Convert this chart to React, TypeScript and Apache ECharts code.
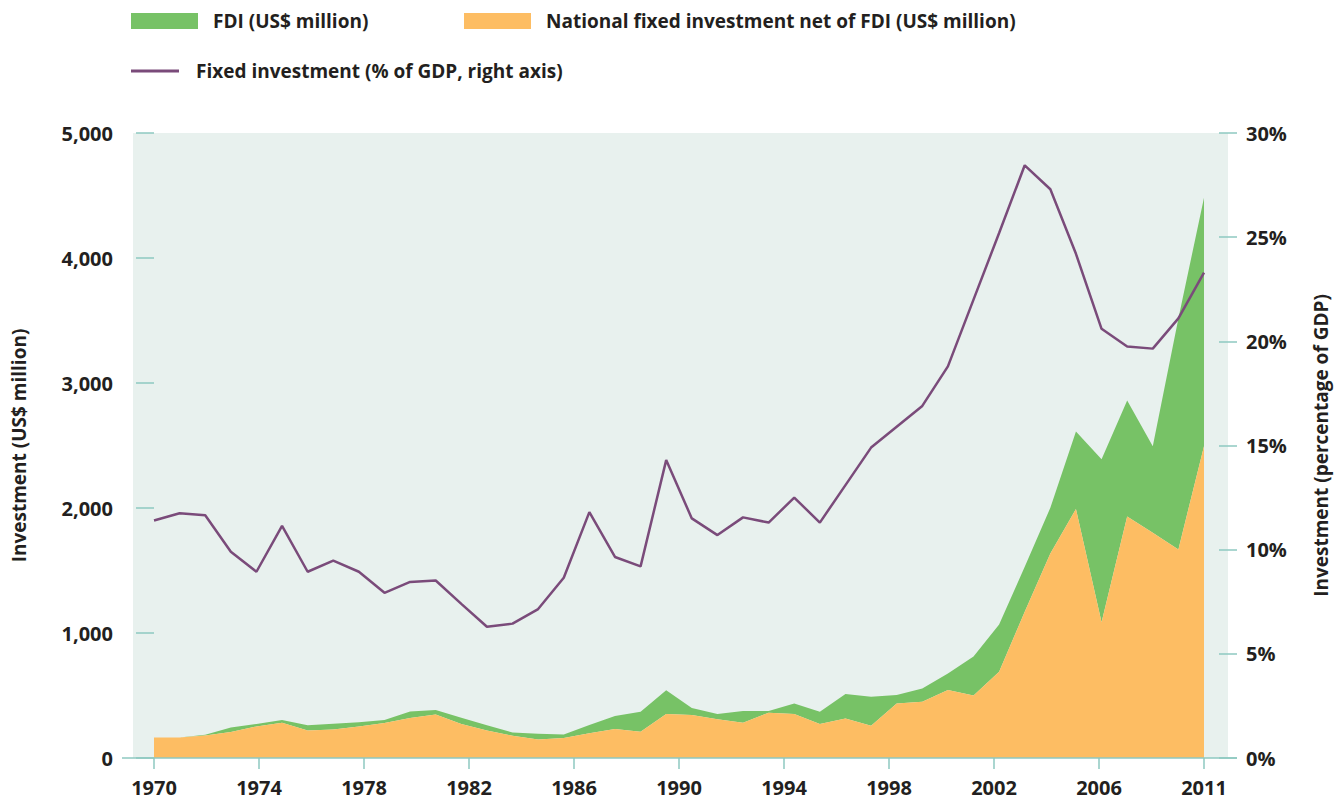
import React, { useEffect, useRef } from "react";
import * as echarts from "echarts";

// Years (one data point per year)
const years = [
  "1970", "1971", "1972", "1973", "1974", "1975", "1976", "1977", "1978", "1979",
  "1980", "1981", "1982", "1983", "1984", "1985", "1986", "1987", "1988", "1989",
  "1990", "1991", "1992", "1993", "1994", "1995", "1996", "1997", "1998", "1999",
  "2000", "2001", "2002", "2003", "2004", "2005", "2006", "2007", "2008", "2009",
  "2010", "2011",
];

// National fixed investment net of FDI (US$ million)
const national = [
  165, 165, 180, 208, 253, 283, 220, 228, 253, 280,
  320, 349, 272, 220, 178, 149, 160, 198, 233, 210,
  352, 344, 311, 283, 363, 352, 272, 317, 259, 437,
  451, 545, 500, 690, 1170, 1637, 1993, 1086, 1932, 1802,
  1669, 2495,
];

// FDI (US$ million)
const fdi = [
  0, 0, 6, 36, 20, 21, 42, 46, 34, 24,
  52, 35, 50, 42, 26, 46, 29, 66, 103, 161,
  190, 56, 41, 93, 13, 85, 99, 195, 232, 67,
  106, 132, 312, 378, 360, 365, 620, 1304, 929, 693,
  1847, 1987,
];

// Fixed investment (% of GDP, right axis)
const fixedPct = [
  11.4, 11.75, 11.65, 9.9, 8.94, 11.14, 8.94, 9.47, 8.94, 7.93,
  8.45, 8.52, 7.4, 6.3, 6.45, 7.15, 8.65, 11.8, 9.65, 9.2,
  14.3, 11.5, 10.7, 11.55, 11.3, 12.5, 11.3, 13.1, 14.9, 15.9,
  16.9, 18.8, 22.0, 25.2, 28.45, 27.3, 24.2, 20.6, 19.75, 19.65,
  21.1, 23.3,
];

// X-axis tick labels (evenly spaced as in the original)
const tickLabels = ["1970", "1974", "1978", "1982", "1986", "1990", "1994", "1998", "2002", "2006", "2011"];

const FDI_NAME = "FDI (US$ million)";
const NAT_NAME = "National fixed investment net of FDI (US$ million)";
const LINE_NAME = "Fixed investment (% of GDP, right axis)";

const GREEN = "#77c266";
const ORANGE = "#fdbd63";
const PURPLE = "#7a4b7a";
const TEAL = "#8ec8c1";
const BG = "#e8f1ee";
const TEXT = "#231f20";
const FONT = "'Open Sans', 'Noto Sans', sans-serif";

export default function App() {
  const ref = useRef<HTMLDivElement>(null);

  useEffect(() => {
    document.body.style.margin = "0";
    if (!ref.current) return;
    const chart = echarts.init(ref.current, undefined, { renderer: "svg" });

    const legendText = (pad: number) => ({
      color: TEXT,
      fontFamily: FONT,
      fontWeight: "bold" as const,
      fontSize: 19,
      lineHeight: 20,
      padding: [0, 0, 0, pad],
    });

    chart.setOption({
      animation: false,
      backgroundColor: "#ffffff",
      textStyle: { fontFamily: FONT },
      graphic: [
        {
          type: "rect",
          silent: true,
          z: -10,
          shape: { x: 133, y: 133, width: 1095, height: 625 },
          style: { fill: BG },
        },
        {
          type: "line",
          silent: true,
          z: 100,
          shape: { x1: 122, y1: 758, x2: 1237, y2: 758 },
          style: { stroke: TEAL, lineWidth: 1.5 },
        },
      ],
      legend: [
        {
          data: [{ name: FDI_NAME, icon: "rect" }],
          left: 131,
          top: 11,
          padding: 0,
          itemWidth: 67,
          itemHeight: 16,
          textStyle: legendText(10),
        },
        {
          data: [{ name: NAT_NAME, icon: "rect" }],
          left: 464,
          top: 11,
          padding: 0,
          itemWidth: 67,
          itemHeight: 16,
          textStyle: legendText(10),
        },
        {
          data: [{ name: LINE_NAME, icon: "rect" }],
          left: 131,
          top: 61,
          padding: 0,
          itemWidth: 48,
          itemHeight: 3,
          textStyle: legendText(12),
        },
      ],
      grid: { left: 154, right: 138, top: 133, bottom: 43, containLabel: false },
      xAxis: [
        {
          type: "category",
          data: years,
          boundaryGap: false,
          show: false,
        },
        {
          type: "value",
          min: 0,
          max: 10,
          interval: 1,
          position: "bottom",
          axisLine: { show: false },
          axisTick: { show: true, length: 11, lineStyle: { color: TEAL, width: 1.5 } },
          splitLine: { show: false },
          axisLabel: {
            margin: 19,
            color: TEXT,
            fontFamily: FONT,
            fontWeight: "bold",
            fontSize: 20,
            formatter: (v: number) => tickLabels[Math.round(v)] ?? "",
          },
        },
      ],
      yAxis: [
        {
          type: "value",
          min: 0,
          max: 5000,
          interval: 1000,
          position: "left",
          offset: 14,
          axisLine: { show: false },
          axisTick: { show: true, length: 18, lineStyle: { color: TEAL, width: 1.5 } },
          splitLine: { show: false },
          axisLabel: {
            margin: 27,
            color: TEXT,
            fontFamily: FONT,
            fontWeight: "bold",
            fontSize: 20,
            formatter: (v: number) => v.toLocaleString("en-US"),
          },
          name: "Investment (US$ million)",
          nameLocation: "middle",
          nameRotate: 90,
          nameGap: 112,
          nameTextStyle: { color: TEXT, fontFamily: FONT, fontWeight: "bold", fontSize: 19 },
        },
        {
          type: "value",
          min: 0,
          max: 30,
          interval: 5,
          position: "right",
          offset: 15,
          axisLine: { show: false },
          axisTick: { show: true, length: 18, lineStyle: { color: TEAL, width: 1.5 } },
          splitLine: { show: false },
          axisLabel: {
            margin: 27,
            color: TEXT,
            fontFamily: FONT,
            fontWeight: "bold",
            fontSize: 20,
            formatter: "{value}%",
          },
          name: "Investment (percentage of GDP)",
          nameLocation: "middle",
          nameRotate: 90,
          nameGap: 92,
          nameTextStyle: { color: TEXT, fontFamily: FONT, fontWeight: "bold", fontSize: 19 },
        },
      ],
      series: [
        {
          name: NAT_NAME,
          type: "line",
          stack: "investment",
          xAxisIndex: 0,
          yAxisIndex: 0,
          data: national,
          symbol: "none",
          lineStyle: { width: 0 },
          itemStyle: { color: ORANGE },
          areaStyle: { color: ORANGE, opacity: 1 },
          z: 2,
        },
        {
          name: FDI_NAME,
          type: "line",
          stack: "investment",
          xAxisIndex: 0,
          yAxisIndex: 0,
          data: fdi,
          symbol: "none",
          lineStyle: { width: 0 },
          itemStyle: { color: GREEN },
          areaStyle: { color: GREEN, opacity: 1 },
          z: 1,
        },
        {
          name: LINE_NAME,
          type: "line",
          xAxisIndex: 0,
          yAxisIndex: 1,
          data: fixedPct,
          symbol: "none",
          lineStyle: { width: 2.5, color: PURPLE },
          itemStyle: { color: PURPLE },
          z: 5,
        },
      ],
    });

    return () => chart.dispose();
  }, []);

  return <div ref={ref} style={{ width: 1342, height: 801 }} />;
}
